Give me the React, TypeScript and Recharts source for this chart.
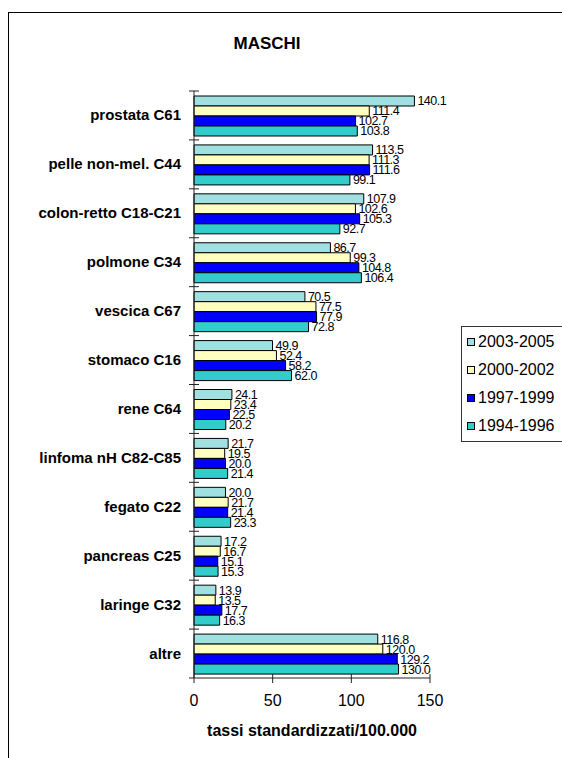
import React from 'react';
import { BarChart, Bar, XAxis, YAxis, Legend, LabelList } from 'recharts';

const CATEGORIES = [
  'prostata C61',
  'pelle non-mel. C44',
  'colon-retto C18-C21',
  'polmone C34',
  'vescica C67',
  'stomaco C16',
  'rene C64',
  'linfoma nH C82-C85',
  'fegato C22',
  'pancreas C25',
  'laringe C32',
  'altre',
];

const SERIES_NAMES = ['2003-2005', '2000-2002', '1997-1999', '1994-1996'];
const SERIES_COLORS = ['#A0E0E0', '#FFFFC0', '#0000FF', '#33CCCC'];

const S_2003_2005 = [140.1, 113.5, 107.9, 86.7, 70.5, 49.9, 24.1, 21.7, 20.0, 17.2, 13.9, 116.8];
const S_2000_2002 = [111.4, 111.3, 102.6, 99.3, 77.5, 52.4, 23.4, 19.5, 21.7, 16.7, 13.5, 120.0];
const S_1997_1999 = [102.7, 111.6, 105.3, 104.8, 77.9, 58.2, 22.5, 20.0, 21.4, 15.1, 17.7, 129.2];
const S_1994_1996 = [103.8, 99.1, 92.7, 106.4, 72.8, 62.0, 20.2, 21.4, 23.3, 15.3, 16.3, 130.0];

const X_TICKS = [0, 50, 100, 150];

const FONT = '"Liberation Sans", Arial, sans-serif';

const data = CATEGORIES.map((name, i) => ({
  name,
  s0: S_2003_2005[i],
  s1: S_2000_2002[i],
  s2: S_1997_1999[i],
  s3: S_1994_1996[i],
}));

// category ticks sit on the band borders, labels in the middle
function CategoryTick(props: any) {
  const { x, y, payload, index } = props;
  const half = payload && payload.offset ? payload.offset : 24.5;
  return (
    <g>
      <line x1={x - 5} x2={x + 5} y1={y - half} y2={y - half} stroke="#222" />
      {index === CATEGORIES.length - 1 && (
        <line x1={x - 5} x2={x} y1={y + half} y2={y + half} stroke="#222" />
      )}
      <text
        x={x - 13}
        y={y + 5}
        textAnchor="end"
        fontFamily={FONT}
        fontWeight="bold"
        fontSize={15}
        fill="#000"
      >
        {payload.value}
      </text>
    </g>
  );
}

function ValueTick(props: any) {
  const { x, y, payload } = props;
  return (
    <g>
      <line x1={x} x2={x} y1={y - 4} y2={y + 5} stroke="#222" />
      <text x={x} y={y + 28} textAnchor="middle" fontFamily={FONT} fontSize={16} fill="#000">
        {payload.value}
      </text>
    </g>
  );
}

// legend keeps the series order top to bottom, like the bars
function LegendBox() {
  return (
    <div
      style={{
        width: 130,
        border: '1px solid #333',
        background: '#fff',
        padding: '1px 0',
        fontFamily: FONT,
        fontSize: 16,
        color: '#000',
      }}
    >
      {SERIES_NAMES.map((name, i) => (
        <div key={name} style={{ display: 'flex', alignItems: 'center', height: 28, paddingLeft: 5 }}>
          <span
            style={{
              display: 'inline-block',
              width: 6,
              height: 6,
              background: SERIES_COLORS[i],
              border: '1px solid #000',
              marginRight: 3,
            }}
          />
          <span>{name}</span>
        </div>
      ))}
    </div>
  );
}

const fmt = (v: any) => Number(v).toFixed(1);

export default function App() {
  return (
    <div
      style={{
        position: 'fixed',
        left: 8,
        top: 12,
        width: 553,
        height: 745,
        borderLeft: '1px solid #000',
        borderTop: '1px solid #000',
        overflow: 'hidden',
        background: '#fff',
      }}
    >
      <div
        style={{
          position: 'absolute',
          left: 158,
          top: 21,
          width: 200,
          textAlign: 'center',
          fontFamily: FONT,
          fontWeight: 'bold',
          fontSize: 17,
          lineHeight: '20px',
        }}
      >
        MASCHI
      </div>
      <BarChart
        width={553}
        height={745}
        data={data}
        layout="vertical"
        margin={{ top: 78, right: 132, bottom: 0, left: 0 }}
        barCategoryGap={5}
        barGap={0}
      >
        <XAxis
          type="number"
          domain={[0, 150]}
          ticks={X_TICKS}
          interval={0}
          height={80}
          stroke="#222"
          tickLine={false}
          tickSize={0}
          tickMargin={0}
          tick={<ValueTick />}
          label={{
            value: 'tassi standardizzati/100.000',
            position: 'insideBottom',
            offset: 22,
            style: { fontFamily: FONT, fontWeight: 'bold', fontSize: 16, fill: '#000' },
          }}
        />
        <YAxis
          type="category"
          dataKey="name"
          width={185}
          stroke="#222"
          tickLine={false}
          tickSize={0}
          tickMargin={0}
          interval={0}
          tick={<CategoryTick />}
        />
        <Legend
          layout="vertical"
          align="center"
          verticalAlign="middle"
          wrapperStyle={{ left: 452, top: 313, width: 130 }}
          content={<LegendBox />}
        />
        {SERIES_NAMES.map((name, i) => (
          <Bar
            key={name}
            dataKey={'s' + i}
            name={name}
            fill={SERIES_COLORS[i]}
            stroke="#000"
            strokeWidth={1}
            isAnimationActive={false}
          >
            <LabelList
              dataKey={'s' + i}
              position="right"
              offset={3}
              formatter={fmt}
              style={{ fontFamily: FONT, fontSize: 12.5, fill: '#000', letterSpacing: -0.5 }}
            />
          </Bar>
        ))}
      </BarChart>
    </div>
  );
}
